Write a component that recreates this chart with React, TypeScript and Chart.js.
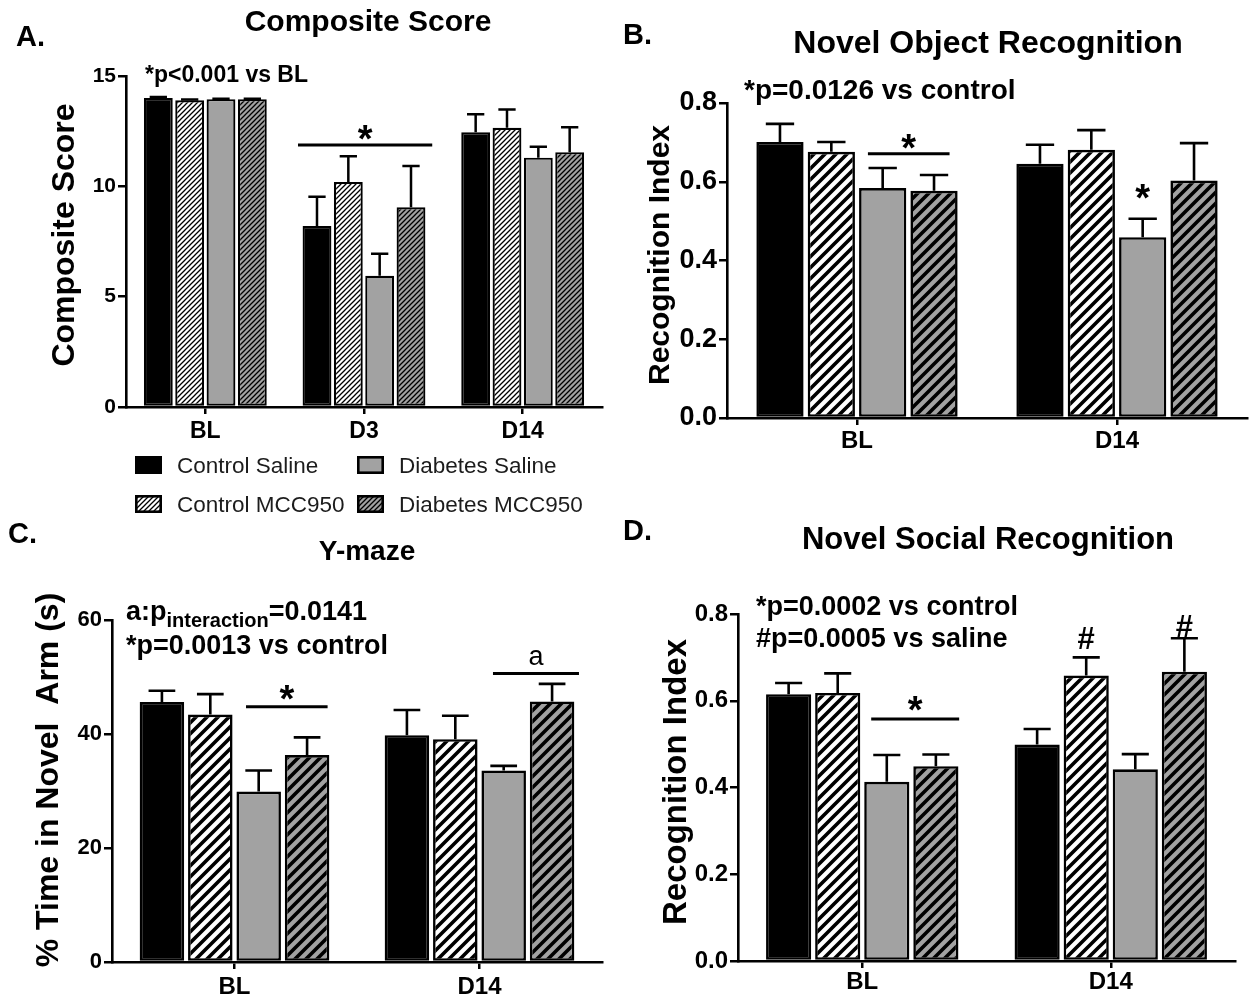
import React, { useEffect, useRef } from 'react';
import { Chart, registerables } from 'chart.js';

Chart.register(...registerables);

const W = 1253;
const H = 1003;
const FAMILY = '"Liberation Sans", Arial, Helvetica, sans-serif';
const GRAY = '#a2a2a2';

const seriesLabels = ['Control Saline', 'Control MCC950', 'Diabetes Saline', 'Diabetes MCC950'];

// ---- A. Composite Score ----
const compositeCategories = ['BL', 'D3', 'D14'];
const compositeTicks = [0, 5, 10, 15];
const compositeControlSaline = [14.0, 8.2, 12.45];
const compositeControlMCC950 = [13.9, 10.2, 12.65];
const compositeDiabetesSaline = [13.95, 5.95, 11.3];
const compositeDiabetesMCC950 = [13.95, 9.05, 11.55];
const compositeControlSalineSem = [0.05, 1.33, 0.82];
const compositeControlMCC950Sem = [0.03, 1.16, 0.83];
const compositeDiabetesSalineSem = [0.02, 0.99, 0.49];
const compositeDiabetesMCC950Sem = [0.02, 1.87, 1.13];

// ---- B. Novel Object Recognition ----
const objectCategories = ['BL', 'D14'];
const objectTicks = [0, 0.2, 0.4, 0.6, 0.8];
const objectControlSaline = [0.701, 0.646];
const objectControlMCC950 = [0.676, 0.681];
const objectDiabetesSaline = [0.584, 0.459];
const objectDiabetesMCC950 = [0.577, 0.603];
const objectControlSalineSem = [0.046, 0.048];
const objectControlMCC950Sem = [0.025, 0.05];
const objectDiabetesSalineSem = [0.051, 0.047];
const objectDiabetesMCC950Sem = [0.04, 0.095];

// ---- C. Y-maze ----
const mazeCategories = ['BL', 'D14'];
const mazeTicks = [0, 20, 40, 60];
const mazeControlSaline = [45.6, 39.8];
const mazeControlMCC950 = [43.4, 39.1];
const mazeDiabetesSaline = [29.9, 33.6];
const mazeDiabetesMCC950 = [36.3, 45.7];
const mazeControlSalineSem = [2.0, 4.4];
const mazeControlMCC950Sem = [3.6, 4.1];
const mazeDiabetesSalineSem = [3.7, 0.8];
const mazeDiabetesMCC950Sem = [3.1, 3.1];

// ---- D. Novel Social Recognition ----
const socialCategories = ['BL', 'D14'];
const socialTicks = [0, 0.2, 0.4, 0.6, 0.8];
const socialControlSaline = [0.615, 0.499];
const socialControlMCC950 = [0.618, 0.658];
const socialDiabetesSaline = [0.413, 0.442];
const socialDiabetesMCC950 = [0.449, 0.667];
const socialControlSalineSem = [0.026, 0.036];
const socialControlMCC950Sem = [0.045, 0.042];
const socialDiabetesSalineSem = [0.062, 0.035];
const socialDiabetesMCC950Sem = [0.027, 0.077];

type TextSpec = { text: string; x: number; cy: number; size: number };
type SigSpec = { cat: number; from: number; to: number; y: number; mark: string; markDy: number; markSize: number; bold: boolean };
type MarkSpec = { cat: number; ds: number; y: number; text: string; size: number };

type PanelSpec = {
  categories: string[];
  means: number[][];
  sems: number[][];
  yTicks: number[];
  yDecimals: number;
  area: { left: number; right: number; top: number; bottom: number };
  tickFont: number;
  catFont: number;
  catPad: number;
  border: number;
  errWidth: number;
  hatchSize: number;
  hatchWidth: number;
  letter: TextSpec;
  title: TextSpec;
  yTitle: TextSpec;
  notes: TextSpec[];
  sig: SigSpec[];
  marks: MarkSpec[];
  legend?: boolean;
  subscriptNote?: boolean;
};

const panels: PanelSpec[] = [
  {
    categories: compositeCategories,
    means: [compositeControlSaline, compositeControlMCC950, compositeDiabetesSaline, compositeDiabetesMCC950],
    sems: [compositeControlSalineSem, compositeControlMCC950Sem, compositeDiabetesSalineSem, compositeDiabetesMCC950Sem],
    yTicks: compositeTicks,
    yDecimals: 0,
    area: { left: 126, right: 602, top: 76, bottom: 407 },
    tickFont: 21,
    catFont: 23,
    catPad: 4,
    border: 2.2,
    errWidth: 2.5,
    hatchSize: 5,
    hatchWidth: 1.3,
    letter: { text: 'A.', x: 16, cy: 36, size: 29 },
    title: { text: 'Composite Score', x: 368, cy: 23, size: 30 },
    yTitle: { text: 'Composite Score', x: 66, cy: 235, size: 32 },
    notes: [{ text: '*p<0.001 vs BL', x: 145, cy: 76, size: 23 }],
    sig: [{ cat: 1, from: -0.416, to: 0.43, y: 11.87, mark: '*', markDy: -13, markSize: 38, bold: true }],
    marks: [],
    legend: true,
  },
  {
    categories: objectCategories,
    means: [objectControlSaline, objectControlMCC950, objectDiabetesSaline, objectDiabetesMCC950],
    sems: [objectControlSalineSem, objectControlMCC950Sem, objectDiabetesSalineSem, objectDiabetesMCC950Sem],
    yTicks: objectTicks,
    yDecimals: 1,
    area: { left: 727, right: 1247, top: 103, bottom: 418 },
    tickFont: 27,
    catFont: 24,
    catPad: 2,
    border: 2.6,
    errWidth: 2.6,
    hatchSize: 11,
    hatchWidth: 3.6,
    letter: { text: 'B.', x: 623, cy: 34, size: 29 },
    title: { text: 'Novel Object Recognition', x: 988, cy: 45, size: 32 },
    yTitle: { text: 'Recognition Index', x: 661, cy: 255, size: 30 },
    notes: [{ text: '*p=0.0126 vs control', x: 744, cy: 92, size: 28 }],
    sig: [{ cat: 0, from: 0.042, to: 0.356, y: 0.671, mark: '*', markDy: -12, markSize: 38, bold: true }],
    marks: [{ cat: 1, ds: 2, y: 0.575, text: '*', size: 38 }],
  },
  {
    categories: mazeCategories,
    means: [mazeControlSaline, mazeControlMCC950, mazeDiabetesSaline, mazeDiabetesMCC950],
    sems: [mazeControlSalineSem, mazeControlMCC950Sem, mazeDiabetesSalineSem, mazeDiabetesMCC950Sem],
    yTicks: mazeTicks,
    yDecimals: 0,
    area: { left: 112, right: 602, top: 620, bottom: 962 },
    tickFont: 22,
    catFont: 24,
    catPad: 4,
    border: 2.6,
    errWidth: 2.6,
    hatchSize: 11,
    hatchWidth: 3.6,
    letter: { text: 'C.', x: 8, cy: 533, size: 29 },
    title: { text: 'Y-maze', x: 367, cy: 550, size: 28 },
    yTitle: { text: '% Time in Novel  Arm (s)', x: 50, cy: 780, size: 32 },
    notes: [{ text: '*p=0.0013 vs control', x: 126, cy: 647, size: 27 }],
    sig: [
      { cat: 0, from: 0.047, to: 0.38, y: 44.8, mark: '*', markDy: -14, markSize: 38, bold: true },
      { cat: 1, from: 0.055, to: 0.406, y: 50.6, mark: 'a', markDy: -16, markSize: 27, bold: false },
    ],
    marks: [],
    subscriptNote: true,
  },
  {
    categories: socialCategories,
    means: [socialControlSaline, socialControlMCC950, socialDiabetesSaline, socialDiabetesMCC950],
    sems: [socialControlSalineSem, socialControlMCC950Sem, socialDiabetesSalineSem, socialDiabetesMCC950Sem],
    yTicks: socialTicks,
    yDecimals: 1,
    area: { left: 738, right: 1235, top: 614, bottom: 961 },
    tickFont: 24,
    catFont: 24,
    catPad: 0,
    border: 2.6,
    errWidth: 2.6,
    hatchSize: 11,
    hatchWidth: 3.6,
    letter: { text: 'D.', x: 623, cy: 530, size: 29 },
    title: { text: 'Novel Social Recognition', x: 988, cy: 541, size: 31 },
    yTitle: { text: 'Recognition Index', x: 677, cy: 782, size: 33 },
    notes: [
      { text: '*p=0.0002 vs control', x: 756, cy: 608, size: 27 },
      { text: '#p=0.0005 vs saline', x: 756, cy: 640, size: 27 },
    ],
    sig: [{ cat: 0, from: 0.036, to: 0.39, y: 0.558, mark: '*', markDy: -15, markSize: 38, bold: true }],
    marks: [
      { cat: 1, ds: 1, y: 0.745, text: '#', size: 31 },
      { cat: 1, ds: 3, y: 0.772, text: '#', size: 31 },
    ],
  },
];

function hatch(ctx: CanvasRenderingContext2D, bg: string, size: number, lw: number) {
  const c = document.createElement('canvas');
  c.width = size;
  c.height = size;
  const g = c.getContext('2d')!;
  g.fillStyle = bg;
  g.fillRect(0, 0, size, size);
  g.strokeStyle = '#000';
  g.lineWidth = lw;
  g.beginPath();
  g.moveTo(-1, size + 1);
  g.lineTo(size + 1, -1);
  g.moveTo(-size / 2 - 1, size / 2 + 1);
  g.lineTo(size / 2 + 1, -size / 2 - 1);
  g.moveTo(size / 2 - 1, size * 1.5 + 1);
  g.lineTo(size * 1.5 + 1, size / 2 - 1);
  g.stroke();
  return ctx.createPattern(c, 'repeat')!;
}

function drawText(
  ctx: CanvasRenderingContext2D,
  s: string,
  x: number,
  cy: number,
  size: number,
  weight = 'bold',
  align: CanvasTextAlign = 'left',
  color = '#000'
) {
  ctx.save();
  ctx.font = `${weight} ${size}px ${FAMILY}`;
  ctx.fillStyle = color;
  ctx.textAlign = align;
  ctx.textBaseline = 'alphabetic';
  const m = ctx.measureText(s);
  ctx.fillText(s, x, cy + (m.actualBoundingBoxAscent - m.actualBoundingBoxDescent) / 2);
  ctx.restore();
}

function decorPlugin(p: PanelSpec) {
  return {
    id: 'decor',
    afterDatasetsDraw(chart: any) {
      const ctx: CanvasRenderingContext2D = chart.ctx;
      const ys = chart.scales.y;
      p.means.forEach((series, di) => {
        const meta = chart.getDatasetMeta(di);
        meta.data.forEach((el: any, j: number) => {
          const top = ys.getPixelForValue(series[j] + p.sems[di][j]);
          const half = el.width * 0.3;
          ctx.save();
          ctx.strokeStyle = '#000';
          ctx.lineWidth = p.errWidth;
          ctx.beginPath();
          ctx.moveTo(el.x, el.y);
          ctx.lineTo(el.x, top);
          ctx.moveTo(el.x - half, top);
          ctx.lineTo(el.x + half, top);
          ctx.stroke();
          ctx.restore();
        });
      });
    },
    afterDraw(chart: any) {
      const ctx: CanvasRenderingContext2D = chart.ctx;
      const xs = chart.scales.x;
      const ys = chart.scales.y;
      drawText(ctx, p.letter.text, p.letter.x, p.letter.cy, p.letter.size);
      drawText(ctx, p.title.text, p.title.x, p.title.cy, p.title.size, 'bold', 'center');
      ctx.save();
      ctx.translate(p.yTitle.x, p.yTitle.cy);
      ctx.rotate(-Math.PI / 2);
      drawText(ctx, p.yTitle.text, 0, 0, p.yTitle.size, 'bold', 'center');
      ctx.restore();
      p.notes.forEach((n) => drawText(ctx, n.text, n.x, n.cy, n.size));

      if (p.subscriptNote) {
        ctx.save();
        ctx.fillStyle = '#000';
        ctx.textBaseline = 'alphabetic';
        ctx.textAlign = 'left';
        let x = 126;
        const base = 620;
        ctx.font = `bold 27px ${FAMILY}`;
        ctx.fillText('a:p', x, base);
        x += ctx.measureText('a:p').width;
        ctx.font = `bold 20px ${FAMILY}`;
        ctx.fillText('interaction', x, base + 7);
        x += ctx.measureText('interaction').width;
        ctx.font = `bold 27px ${FAMILY}`;
        ctx.fillText('=0.0141', x, base);
        ctx.restore();
      }

      const catW = xs.width / p.categories.length;
      p.sig.forEach((s) => {
        const c = xs.getPixelForValue(s.cat);
        const y = ys.getPixelForValue(s.y);
        const x0 = c + s.from * catW;
        const x1 = c + s.to * catW;
        ctx.save();
        ctx.strokeStyle = '#000';
        ctx.lineWidth = 3;
        ctx.beginPath();
        ctx.moveTo(x0, y);
        ctx.lineTo(x1, y);
        ctx.stroke();
        ctx.restore();
        drawText(ctx, s.mark, (x0 + x1) / 2, y + s.markDy, s.markSize, s.bold ? 'bold' : 'normal', 'center');
      });
      p.marks.forEach((m) => {
        const el = chart.getDatasetMeta(m.ds).data[m.cat];
        drawText(ctx, m.text, el.x, ys.getPixelForValue(m.y), m.size, 'bold', 'center');
      });

      if (p.legend) {
        const cols = [135, 357];
        const rows = [465, 504];
        const order = [
          [0, 2],
          [1, 3],
        ];
        order.forEach((row, ri) => {
          row.forEach((di, ci) => {
            const bx = cols[ci];
            const by = rows[ri] - 9;
            ctx.save();
            ctx.fillStyle = chart.data.datasets[di].backgroundColor;
            ctx.fillRect(bx, by, 27, 18);
            ctx.strokeStyle = '#000';
            ctx.lineWidth = 2.6;
            ctx.strokeRect(bx + 1.3, by + 1.3, 24.4, 15.4);
            ctx.restore();
            drawText(ctx, seriesLabels[di], bx + 42, rows[ri], 22.5, 'normal', 'left', '#1c1c1c');
          });
        });
      }
    },
  };
}

function buildChart(canvas: HTMLCanvasElement, p: PanelSpec) {
  const ctx = canvas.getContext('2d')!;
  const fills: any[] = [
    '#000000',
    hatch(ctx, '#ffffff', p.hatchSize, p.hatchWidth),
    GRAY,
    hatch(ctx, GRAY, p.hatchSize, p.hatchWidth),
  ];
  const YW = 70;
  const XH = 60;
  const datasets = p.means.map((m, i) => ({
    label: seriesLabels[i],
    data: m,
    backgroundColor: fills[i],
    borderColor: '#000',
    borderWidth: p.border,
    borderSkipped: false as const,
    categoryPercentage: 0.79,
    barPercentage: 0.92,
  }));
  const yMin = p.yTicks[0];
  const yMax = p.yTicks[p.yTicks.length - 1];
  return new Chart(ctx, {
    type: 'bar',
    data: { labels: p.categories, datasets },
    options: {
      responsive: false,
      animation: false,
      devicePixelRatio: 1,
      events: [],
      layout: {
        padding: {
          left: p.area.left - YW,
          right: W - p.area.right,
          top: p.area.top,
          bottom: H - p.area.bottom - XH,
        },
      },
      plugins: {
        legend: { display: false },
        tooltip: { enabled: false },
        title: { display: false },
      },
      scales: {
        x: {
          type: 'category',
          offset: true,
          grid: {
            display: true,
            drawOnChartArea: false,
            drawTicks: true,
            tickLength: 7,
            color: '#000',
            lineWidth: 2.5,
            offset: false,
          },
          border: { display: true, color: '#000', width: 2.6 },
          ticks: {
            color: '#000',
            padding: p.catPad,
            maxRotation: 0,
            font: { family: FAMILY, size: p.catFont, weight: 'bold' },
          },
          afterFit: (s: any) => {
            s.height = XH;
          },
        },
        y: {
          type: 'linear',
          min: yMin,
          max: yMax,
          grid: {
            display: true,
            drawOnChartArea: false,
            drawTicks: true,
            tickLength: 8,
            color: '#000',
            lineWidth: 2.5,
          },
          border: { display: true, color: '#000', width: 2.6 },
          ticks: {
            color: '#000',
            padding: 2,
            font: { family: FAMILY, size: p.tickFont, weight: 'bold' },
            callback: (v: any) => Number(v).toFixed(p.yDecimals),
          },
          afterBuildTicks: (s: any) => {
            s.ticks = p.yTicks.map((v) => ({ value: v }));
          },
          afterFit: (s: any) => {
            s.width = YW;
          },
        },
      },
    } as any,
    plugins: [decorPlugin(p)],
  });
}

function Panel({ spec }: { spec: PanelSpec }) {
  const ref = useRef<HTMLCanvasElement>(null);
  useEffect(() => {
    const chart = buildChart(ref.current!, spec);
    return () => chart.destroy();
  }, [spec]);
  return (
    <canvas
      ref={ref}
      width={W}
      height={H}
      style={{ position: 'absolute', left: 0, top: 0, width: W, height: H }}
    />
  );
}

export default function App() {
  return (
    <div
      style={{
        position: 'fixed',
        left: 0,
        top: 0,
        width: W,
        height: H,
        background: '#ffffff',
        overflow: 'hidden',
      }}
    >
      {panels.map((p, i) => (
        <Panel key={i} spec={p} />
      ))}
    </div>
  );
}
